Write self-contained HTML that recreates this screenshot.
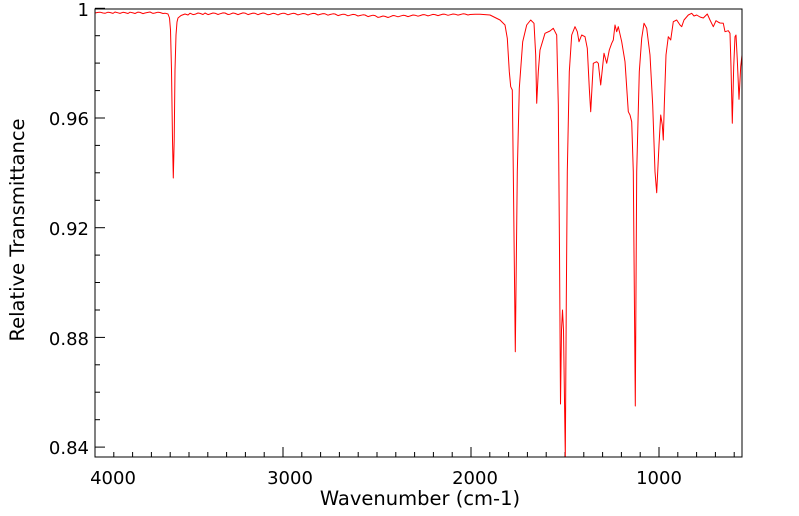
<!DOCTYPE html>
<html><head><meta charset="utf-8"><style>
html,body{margin:0;padding:0;background:#fff;}
svg{display:block;font-family:"DejaVu Sans","Liberation Sans",sans-serif;}
</style></head><body>
<svg width="799" height="516" viewBox="0 0 799 516" xmlns="http://www.w3.org/2000/svg">
<rect width="799" height="516" fill="#fff"/>
<g stroke="#000" stroke-width="1">
<line x1="95" y1="8.3" x2="105" y2="8.3"/>
<line x1="95" y1="118" x2="105" y2="118"/>
<line x1="95" y1="227.7" x2="105" y2="227.7"/>
<line x1="95" y1="337.4" x2="105" y2="337.4"/>
<line x1="95" y1="447.1" x2="105" y2="447.1"/>
<line x1="95" y1="35.7" x2="100" y2="35.7"/><line x1="95" y1="63.1" x2="100" y2="63.1"/><line x1="95" y1="90.6" x2="100" y2="90.6"/>
<line x1="95" y1="145.4" x2="100" y2="145.4"/><line x1="95" y1="172.8" x2="100" y2="172.8"/><line x1="95" y1="200.3" x2="100" y2="200.3"/>
<line x1="95" y1="255.1" x2="100" y2="255.1"/><line x1="95" y1="282.5" x2="100" y2="282.5"/><line x1="95" y1="310" x2="100" y2="310"/>
<line x1="95" y1="364.8" x2="100" y2="364.8"/><line x1="95" y1="392.2" x2="100" y2="392.2"/><line x1="95" y1="419.7" x2="100" y2="419.7"/>
<line x1="283" y1="457" x2="283" y2="447"/>
<line x1="471" y1="457" x2="471" y2="447"/>
<line x1="659" y1="457" x2="659" y2="447"/>
<line x1="113.8" y1="457" x2="113.8" y2="452"/><line x1="132.6" y1="457" x2="132.6" y2="452"/><line x1="151.4" y1="457" x2="151.4" y2="452"/><line x1="170.2" y1="457" x2="170.2" y2="452"/><line x1="189" y1="457" x2="189" y2="452"/><line x1="207.8" y1="457" x2="207.8" y2="452"/><line x1="226.6" y1="457" x2="226.6" y2="452"/><line x1="245.4" y1="457" x2="245.4" y2="452"/><line x1="264.2" y1="457" x2="264.2" y2="452"/>
<line x1="301.8" y1="457" x2="301.8" y2="452"/><line x1="320.6" y1="457" x2="320.6" y2="452"/><line x1="339.4" y1="457" x2="339.4" y2="452"/><line x1="358.2" y1="457" x2="358.2" y2="452"/><line x1="377" y1="457" x2="377" y2="452"/><line x1="395.8" y1="457" x2="395.8" y2="452"/><line x1="414.6" y1="457" x2="414.6" y2="452"/><line x1="433.4" y1="457" x2="433.4" y2="452"/><line x1="452.2" y1="457" x2="452.2" y2="452"/>
<line x1="489.8" y1="457" x2="489.8" y2="452"/><line x1="508.6" y1="457" x2="508.6" y2="452"/><line x1="527.4" y1="457" x2="527.4" y2="452"/><line x1="546.2" y1="457" x2="546.2" y2="452"/><line x1="565" y1="457" x2="565" y2="452"/><line x1="583.8" y1="457" x2="583.8" y2="452"/><line x1="602.6" y1="457" x2="602.6" y2="452"/><line x1="621.4" y1="457" x2="621.4" y2="452"/><line x1="640.2" y1="457" x2="640.2" y2="452"/>
<line x1="677.8" y1="457" x2="677.8" y2="452"/><line x1="696.6" y1="457" x2="696.6" y2="452"/><line x1="715.4" y1="457" x2="715.4" y2="452"/><line x1="734.2" y1="457" x2="734.2" y2="452"/>
</g>
<polyline fill="none" stroke="#ff0000" stroke-width="1" stroke-linejoin="round" points="
95,13 98,12.4 100,12.2 103,13 105,13.3 108,12.2 110,12.5 113,13.4 115,12 118,12.8 120,13.4 123,12.3 125,12.6 128,13.5 130,12.2 133,12.9 135,13.5 138,12.1 140,12.4 143,13.6 145,13 148,12.4 150,12 153,13.4 155,13 158,12.2 160,12.5 163,13.5 165,13.2 168,14 169.5,18 170.5,30 171.5,70 172.5,140 173.3,178 174.2,140 175,70 176,35 177,22 178,18 181,15.5 185,14 188,15 190,13.2 193,14.6 195,14.3 198,13 200,13.4 203,14.5 205,13 208,14.6 210,14 213,13 215,13.2 218,14.5 220,13.8 223,12.9 225,13 228,14.5 230,14.2 233,13 235,13.4 238,14.6 240,13.9 243,12.9 245,13.1 248,14.6 250,14 253,13.1 255,13.3 258,14.7 260,13.9 263,13 265,13.4 268,14.8 270,14.4 273,13.3 275,13.6 278,14.9 280,14 283,13.2 285,13.4 288,14.8 290,14.1 293,13.3 295,13.5 298,14.9 300,14.3 303,13.5 305,13.7 308,15 310,14.2 313,13.4 315,13.5 318,15 320,14.4 323,13.6 325,13.8 328,15.2 330,14.5 333,13.8 335,14 338,15.6 340,15 343,14.2 345,14.4 348,15.8 350,15.2 353,14.4 355,14.6 358,16 360,15.5 363,14.8 365,15 368,16.6 370,16 373,15.2 375,15.6 378,17.4 380,17 383,16 385,16.4 388,17.5 390,16.8 393,15.5 395,15.8 398,16.8 400,16.2 403,15.3 405,15.5 408,16.6 410,16 413,15 415,15.2 418,16.2 420,15.6 423,14.6 425,14.8 428,15.9 430,15.3 433,14.4 435,14.6 438,15.6 440,15 443,14.1 445,14.3 448,15.3 450,14.8 453,14 455,14.2 458,15.1 460,14.6 463,13.8 465,14 468,15 470,14.5 475,14.2 480,14.3 490,15 500,20 505,25 507.3,38.3 509.3,71.7 510.7,86.7 512.3,90 513.3,171.7 515.3,351.7 517.3,171.7 519.3,88.3 522.7,41.7 526.7,25 530.7,20 534,23.3 535.7,55 536.7,103.3 538.3,71.7 540,50 545,33.3 550,31 553.3,28.3 556.7,35 558.3,105 559.5,250 560.5,404 561.5,330 562.5,310 563.5,330 565.3,457 566.3,300 567.3,171.7 569.3,71.7 571.7,35 575,26.7 577.3,31.7 579,41.7 581.7,35 585,36.7 587.3,48.3 589.3,88.3 590.7,111.7 593.3,63.3 596.7,61.7 598.3,63.3 600.7,85 604,53.3 606.7,63.3 609.3,50 611.7,43.3 613.3,40 615,25 616.7,31.7 618.3,26.7 621.7,41.7 625,61.7 628.3,111.7 630,115 631.7,121.7 633.3,171.7 635.3,406 636.7,171.7 639.3,71.7 641.7,38.3 644,23.3 646.7,28.3 650,55 652.7,105 655,171.7 656.7,192.7 659,145 660.7,115 662.3,125 663.3,140 664.3,105 666,55 668.3,36.7 670.7,40 673.3,21.7 676.7,20 680,25 681.7,26.7 684,20 688.3,15 691.7,13.3 694,16 696.7,15 700,17 703.3,18 707.3,14 710,20 713.3,26.7 716,20.7 718,22 720,23 723.3,23.3 725,31.7 728.3,30.7 730,33.3 731,66.7 732.3,123.3 733.7,66.7 735,36.7 736,35 737.3,60 739,99.3 740.7,66.7 742,55"/>
<rect x="95" y="9" width="647" height="448" fill="none" stroke="#000" stroke-width="1"/>
<g font-size="18" fill="#000" text-anchor="end">
<text x="89" y="16">1</text>
<text x="89" y="125">0.96</text>
<text x="89" y="235">0.92</text>
<text x="89" y="345">0.88</text>
<text x="89" y="454">0.84</text>
</g>
<g font-size="18" fill="#000" text-anchor="middle">
<text x="113" y="484">4000</text>
<text x="290" y="484">3000</text>
<text x="475" y="484">2000</text>
<text x="659" y="484">1000</text>
</g>
<g font-size="19.5" fill="#000" text-anchor="middle">
<text x="420" y="505">Wavenumber (cm-1)</text>
<text transform="translate(24,230) rotate(-90)">Relative Transmittance</text>
</g>
</svg>
</body></html>
